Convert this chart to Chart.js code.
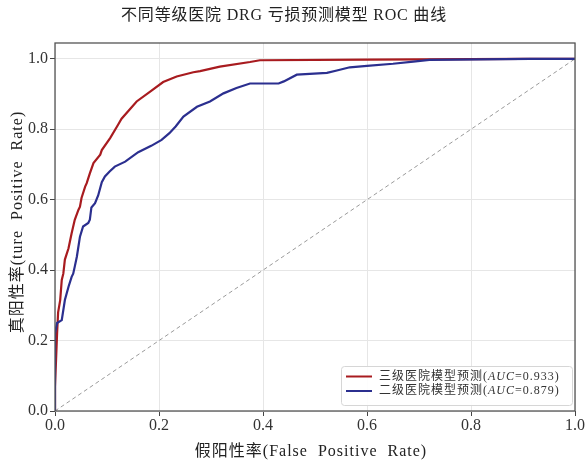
<!DOCTYPE html>
<html>
<head>
<meta charset="utf-8">
<script src="https://cdn.jsdelivr.net/npm/chart.js@4.4.1/dist/chart.umd.min.js"></script>
<style>
html,body{margin:0;padding:0;background:#fff;}
#wrap{width:587px;height:462px;position:relative;}
</style>
</head>
<body>
<div id="wrap"><canvas id="c" width="587" height="462"></canvas></div>
<script>
// ---- data ----
const titleText = "不同等级医院 DRG 亏损预测模型 ROC 曲线";
const xTitle = "假阳性率(False  Positive  Rate)";
const yTitle = "真阳性率(ture  Positive  Rate)";
const xTicks = [0.0, 0.2, 0.4, 0.6, 0.8, 1.0];
const yTicks = [0.0, 0.2, 0.4, 0.6, 0.8, 1.0];
const seriesNames = ["三级医院模型预测", "二级医院模型预测"];
const aucValues = ["0.933", "0.879"];

const tertiaryFpr = [0, 0, 0.004, 0.006, 0.010, 0.013, 0.016, 0.019, 0.026, 0.032, 0.038, 0.045, 0.048, 0.051, 0.058, 0.061, 0.067, 0.074, 0.087, 0.090, 0.106, 0.121, 0.128, 0.157, 0.183, 0.208, 0.234, 0.266, 0.279, 0.317, 0.375, 0.394, 0.60, 0.90, 1.0];
const tertiaryTpr = [0, 0.07, 0.22, 0.28, 0.315, 0.372, 0.39, 0.43, 0.462, 0.505, 0.543, 0.571, 0.58, 0.605, 0.637, 0.647, 0.675, 0.704, 0.728, 0.741, 0.775, 0.812, 0.830, 0.879, 0.907, 0.934, 0.950, 0.962, 0.965, 0.978, 0.991, 0.996, 0.998, 1.0, 1.0];

const secondaryFpr = [0, 0, 0.004, 0.013, 0.019, 0.026, 0.032, 0.035, 0.038, 0.042, 0.048, 0.054, 0.064, 0.067, 0.070, 0.077, 0.083, 0.090, 0.096, 0.105, 0.115, 0.135, 0.160, 0.185, 0.205, 0.220, 0.232, 0.247, 0.273, 0.298, 0.324, 0.349, 0.375, 0.430, 0.440, 0.465, 0.523, 0.542, 0.567, 0.60, 0.65, 0.689, 0.72, 0.913, 1.0];
const secondaryTpr = [0, 0.22, 0.25, 0.258, 0.315, 0.353, 0.381, 0.39, 0.41, 0.438, 0.495, 0.524, 0.534, 0.543, 0.578, 0.59, 0.612, 0.650, 0.666, 0.680, 0.694, 0.708, 0.735, 0.753, 0.770, 0.789, 0.808, 0.836, 0.864, 0.879, 0.902, 0.917, 0.930, 0.930, 0.936, 0.955, 0.960, 0.967, 0.976, 0.980, 0.986, 0.992, 0.997, 1.0, 1.0];

const diagX = [0, 1];
const diagY = [0, 1];

const colors = ["#a81b1f", "#2b2f8f"];

function pts(xs, ys){ return xs.map((x,i)=>({x:x, y:ys[i]})); }

const serif = "'Liberation Serif', 'DejaVu Serif', 'Noto Sans CJK SC', serif";

function setSpacing(ctx, v){ if ('letterSpacing' in ctx) ctx.letterSpacing = v; }

const framePlugin = {
  id: 'frame',
  afterDraw(chart){
    const {ctx, chartArea:a} = chart;
    ctx.save();
    ctx.strokeStyle = '#555';
    ctx.lineWidth = 1.3;
    ctx.strokeRect(a.left, a.top, a.right - a.left, a.bottom - a.top);
    // title
    ctx.fillStyle = '#222';
    ctx.font = "16px " + serif;
    setSpacing(ctx, '0.8px');
    ctx.textAlign = 'center';
    ctx.textBaseline = 'middle';
    ctx.fillText(titleText, 284, 16);
    // axis titles
    setSpacing(ctx, '1px');
    ctx.font = "16px " + serif;
    ctx.fillText(xTitle, 311, 452);
    ctx.save();
    ctx.translate(18, 222);
    ctx.rotate(-Math.PI/2);
    ctx.fillText(yTitle, 0, 0);
    ctx.restore();
    // legend
    setSpacing(ctx, '0px');
    const bx = 341, by = 366, bw = 231, bh = 39;
    ctx.fillStyle = 'rgba(255,255,255,0.9)';
    ctx.strokeStyle = '#d6d6d6';
    ctx.lineWidth = 1;
    ctx.beginPath();
    if (ctx.roundRect) ctx.roundRect(bx+0.5, by+0.5, bw, bh, 3); else ctx.rect(bx+0.5, by+0.5, bw, bh);
    ctx.fill(); ctx.stroke();
    for (let i=0;i<2;i++){
      const ly = 376.5 + i*14.5;
      ctx.strokeStyle = colors[i];
      ctx.lineWidth = 2;
      ctx.beginPath(); ctx.moveTo(346, ly); ctx.lineTo(372, ly); ctx.stroke();
      ctx.fillStyle = '#333';
      ctx.textAlign = 'left';
      ctx.textBaseline = 'middle';
      setSpacing(ctx, '1px');
      let x = 379;
      ctx.font = "12px " + serif;
      const p1 = seriesNames[i] + "(";
      ctx.fillText(p1, x, ly); x += ctx.measureText(p1).width;
      ctx.font = "italic 12px " + serif;
      const p2 = "AUC";
      ctx.fillText(p2, x, ly); x += ctx.measureText(p2).width;
      ctx.font = "12px " + serif;
      const p3 = "=" + aucValues[i] + ")";
      ctx.fillText(p3, x, ly);
    }
    ctx.restore();
  }
};

new Chart(document.getElementById('c'), {
  type: 'scatter',
  data: {
    datasets: [
      { label: 'diag', data: pts(diagX, diagY), showLine: true, borderColor: '#9a9a9a', borderWidth: 1, borderDash: [4,3], pointRadius: 0, order: 3 },
      { label: seriesNames[0], data: pts(tertiaryFpr, tertiaryTpr), showLine: true, borderColor: colors[0], borderWidth: 2.2, pointRadius: 0, tension: 0, order: 2 },
      { label: seriesNames[1], data: pts(secondaryFpr, secondaryTpr), showLine: true, borderColor: colors[1], borderWidth: 2.2, pointRadius: 0, tension: 0, order: 1 }
    ]
  },
  options: {
    responsive: false,
    animation: false,
    devicePixelRatio: 1,
    layout: { padding: { left: 0, right: 12, top: 43, bottom: 0 } },
    plugins: { legend: { display: false }, title: { display: false }, tooltip: { enabled: false } },
    scales: {
      x: {
        type: 'linear', min: 0, max: 1,
        afterFit(s){ s.height = 51; },
        afterBuildTicks(s){ s.ticks = xTicks.map(v=>({value:v})); },
        border: { display: false },
        grid: { color: '#e6e6e6', lineWidth: 1, tickLength: 5, tickColor: '#444', drawTicks: true },
        ticks: { color: '#333', font: { family: serif, size: 16 }, padding: 0, callback: v => v.toFixed(1), maxRotation: 0 }
      },
      y: {
        type: 'linear', min: 0, max: 1.045,
        afterFit(s){ s.width = 55; },
        afterBuildTicks(s){ s.ticks = yTicks.map(v=>({value:v})); },
        border: { display: false },
        grid: { color: '#e6e6e6', lineWidth: 1, tickLength: 5, tickColor: '#444', drawTicks: true },
        ticks: { color: '#333', font: { family: serif, size: 16 }, padding: 2, callback: v => v.toFixed(1) }
      }
    }
  },
  plugins: [framePlugin]
});
</script>
</body>
</html>
